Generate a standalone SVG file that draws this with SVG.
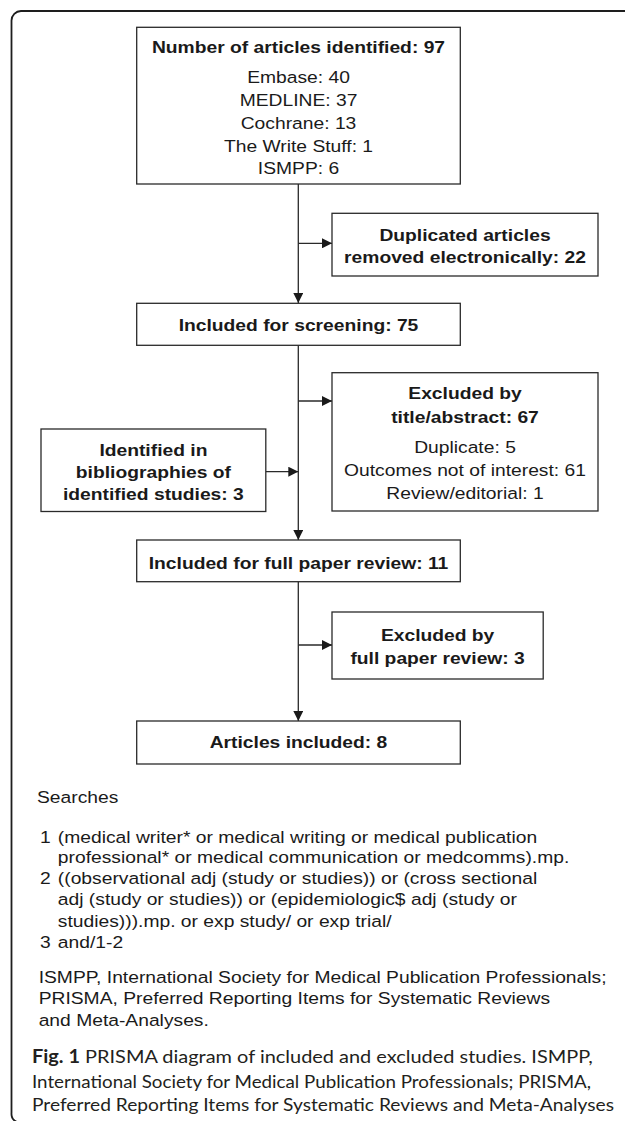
<svg xmlns="http://www.w3.org/2000/svg" width="625" height="1121" viewBox="0 0 625 1121">
<style>
.box{fill:#fff;stroke:#2a2a2a;stroke-width:1.3}
.frame{fill:none;stroke:#1e1e1e;stroke-width:1.8}
.conn{fill:none;stroke:#2a2a2a;stroke-width:1.3}
text{font-family:"Liberation Sans",Arial,sans-serif;font-size:17.2px;fill:#1a1a1a}
.b{font-weight:bold}
.c{text-anchor:middle}
.cap{font-family:Lato,"Open Sans",sans-serif;font-size:18px;fill:#231f20}
</style>
<defs>
<marker id="ah" viewBox="0 0 10 10" refX="10" refY="5" markerWidth="10" markerHeight="10" markerUnits="userSpaceOnUse" orient="auto">
<path d="M0,0 L10,5 L0,10 Z" fill="#1a1a1a"/>
</marker>
</defs>
<path class="frame" d="M625,11 H21 A9.5,9.5 0 0 0 11.5,20.5 V1113 A9,9 0 0 0 17,1122"/>
<g id="connectors">
<line class="conn" x1="298.3" y1="184" x2="298.3" y2="303" marker-end="url(#ah)"/>
<line class="conn" x1="298.3" y1="243.3" x2="332" y2="243.3" marker-end="url(#ah)"/>
<line class="conn" x1="298.3" y1="345.3" x2="298.3" y2="540" marker-end="url(#ah)"/>
<line class="conn" x1="298.3" y1="401" x2="332" y2="401" marker-end="url(#ah)"/>
<line class="conn" x1="265.8" y1="471.7" x2="298.3" y2="471.7" marker-end="url(#ah)"/>
<line class="conn" x1="298.3" y1="581.7" x2="298.3" y2="721" marker-end="url(#ah)"/>
<line class="conn" x1="298.3" y1="645" x2="332" y2="645" marker-end="url(#ah)"/>
</g>
<g id="identified">
<rect class="box" x="136.7" y="27.3" width="323.6" height="156.7"/>
<g transform="translate(298.5 0) scale(1.12 1)">
<text class="b c" x="0" y="53">Number of articles identified: 97</text>
<text class="c" x="0" y="83">Embase: 40</text>
<text class="c" x="0" y="106">MEDLINE: 37</text>
<text class="c" x="0" y="128.7">Cochrane: 13</text>
<text class="c" x="0" y="152">The Write Stuff: 1</text>
<text class="c" x="0" y="174">ISMPP: 6</text>
</g>
</g>
<g id="duplicates">
<rect class="box" x="332" y="213.3" width="266" height="62.7"/>
<g transform="translate(465 0) scale(1.12 1)">
<text class="b c" x="0" y="241">Duplicated articles</text>
<text class="b c" x="0" y="263.3">removed electronically: 22</text>
</g>
</g>
<g id="screening">
<rect class="box" x="136.7" y="303.3" width="323.6" height="42"/>
<g transform="translate(298.5 0) scale(1.12 1)">
<text class="b c" x="0" y="331">Included for screening: 75</text>
</g>
</g>
<g id="excluded-title">
<rect class="box" x="332" y="372.7" width="266" height="138.3"/>
<g transform="translate(465 0) scale(1.12 1)">
<text class="b c" x="0" y="399">Excluded by</text>
<text class="b c" x="0" y="422.7">title/abstract: 67</text>
<text class="c" x="0" y="452.7">Duplicate: 5</text>
<text class="c" x="0" y="476">Outcomes not of interest: 61</text>
<text class="c" x="0" y="498.7">Review/editorial: 1</text>
</g>
</g>
<g id="bibliographies">
<rect class="box" x="41" y="429" width="224.8" height="82.5"/>
<g transform="translate(153.4 0) scale(1.12 1)">
<text class="b c" x="0" y="456">Identified in</text>
<text class="b c" x="0" y="477.7">bibliographies of</text>
<text class="b c" x="0" y="500.3">identified studies: 3</text>
</g>
</g>
<g id="fullpaper">
<rect class="box" x="136.7" y="540" width="323.6" height="41.7"/>
<g transform="translate(298.5 0) scale(1.12 1)">
<text class="b c" x="0" y="569.3">Included for full paper review: 11</text>
</g>
</g>
<g id="excluded-full">
<rect class="box" x="332" y="612" width="211.2" height="67"/>
<g transform="translate(437.6 0) scale(1.12 1)">
<text class="b c" x="0" y="641.5">Excluded by</text>
<text class="b c" x="0" y="664">full paper review: 3</text>
</g>
</g>
<g id="included">
<rect class="box" x="136.7" y="721" width="323.6" height="43"/>
<g transform="translate(298.5 0) scale(1.12 1)">
<text class="b c" x="0" y="748.5">Articles included: 8</text>
</g>
</g>
<g id="notes" transform="translate(37 0) scale(1.12 1)">
<text x="0" y="803">Searches</text>
<text x="2.7" y="842.7">1</text>
<text x="18.6" y="842.7">(medical writer* or medical writing or medical publication</text>
<text x="18.6" y="863">professional* or medical communication or medcomms).mp.</text>
<text x="2.7" y="884.3">2</text>
<text x="18.6" y="884.3">((observational adj (study or studies)) or (cross sectional</text>
<text x="18.6" y="905.3">adj (study or studies)) or (epidemiologic$ adj (study or</text>
<text x="18.6" y="926.7">studies))).mp. or exp study/ or exp trial/</text>
<text x="2.7" y="947.7">3</text>
<text x="18.6" y="947.7">and/1-2</text>
<text x="1.5" y="982.7">ISMPP, International Society for Medical Publication Professionals;</text>
<text x="1.5" y="1004.3">PRISMA, Preferred Reporting Items for Systematic Reviews</text>
<text x="1.5" y="1026">and Meta-Analyses.</text>
</g>
<g id="caption">
<text class="cap" x="32" y="1063" textLength="560.8" lengthAdjust="spacingAndGlyphs"><tspan font-weight="bold">Fig. 1</tspan> PRISMA diagram of included and excluded studies. ISMPP,</text>
<text class="cap" x="32" y="1087.5" textLength="559" lengthAdjust="spacingAndGlyphs">International Society for Medical Publication Professionals; PRISMA,</text>
<text class="cap" x="32" y="1111" textLength="582" lengthAdjust="spacingAndGlyphs">Preferred Reporting Items for Systematic Reviews and Meta-Analyses</text>
</g>
</svg>
